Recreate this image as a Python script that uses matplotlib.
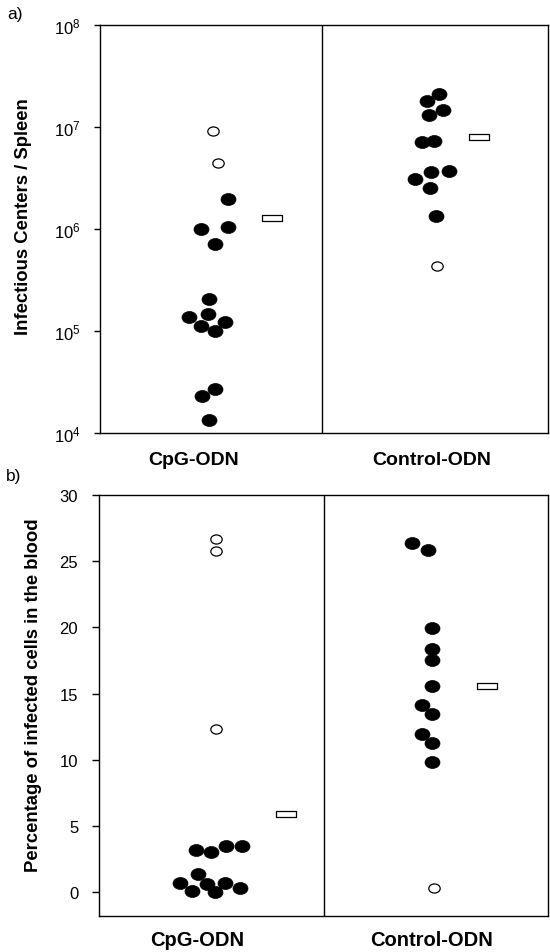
import matplotlib
matplotlib.use("Agg")
import matplotlib.pyplot as plt
from matplotlib.path import Path
from matplotlib.transforms import Affine2D

plt.rcParams['font.family'] = ['Liberation Sans', 'DejaVu Sans']

groups = ['CpG-ODN', 'Control-ODN']

# a) infectious centers per spleen
cpg_spleen_filled = [1.97e6, 1.01e6, 1.04e6, 7.1e5, 2.08e5, 1.37e5, 1.48e5,
                     1.22e5, 1.11e5, 9.9e4, 2.7e4, 2.33e4, 1.34e4]
cpg_spleen_open = [9.2e6, 4.4e6]
cpg_spleen_mean = 1.27e6
ctrl_spleen_filled = [2.1e7, 1.78e7, 1.47e7, 1.31e7, 7.1e6, 7.3e6, 3.66e6,
                      3.73e6, 3.08e6, 2.55e6, 1.34e6]
ctrl_spleen_open = [4.3e5]
ctrl_spleen_mean = 7.9e6
spleen_ticks = [1e4, 1e5, 1e6, 1e7, 1e8]
spleen_ticklabels = [r'$\mathregular{10^{4}}$', r'$\mathregular{10^{5}}$',
                     r'$\mathregular{10^{6}}$', r'$\mathregular{10^{7}}$',
                     r'$\mathregular{10^{8}}$']

# b) percentage of infected cells in the blood
cpg_blood_filled = [3.17, 3.07, 3.47, 3.47, 1.36, 0.70, 0.60, 0.70, 0.1, 0.0, 0.32]
cpg_blood_open = [26.7, 25.76, 12.31]
cpg_blood_mean = 5.89
ctrl_blood_filled = [26.4, 25.83, 19.96, 18.4, 17.55, 15.58, 14.17, 13.44,
                     11.98, 11.28, 9.87]
ctrl_blood_open = [0.35]
ctrl_blood_mean = 15.58
blood_ticks = [0, 5, 10, 15, 20, 25, 30]

# horizontal scatter of the dots (layout only, in category units)
cpg_spleen_dx = [0.08, -0.04, 0.08, 0.02, -0.005, -0.097, -0.01, 0.063, -0.04,
                 0.02, 0.021, -0.037, -0.005]
cpg_spleen_open_dx = [0.01, 0.035]
ctrl_spleen_dx = [0.019, -0.035, 0.038, -0.025, -0.057, 0.0, -0.014, 0.066,
                  -0.086, -0.019, 0.008]
ctrl_spleen_open_dx = [0.01]
cpg_blood_dx = [-0.071, -0.006, 0.064, 0.134, -0.064, -0.143, -0.021, 0.058,
                -0.09, 0.013, 0.125]
cpg_blood_open_dx = [0.018, 0.018, 0.02]
ctrl_blood_dx = [-0.109, -0.039, -0.02, -0.02, -0.02, -0.02, -0.066, -0.02,
                 -0.066, -0.02, -0.02]
ctrl_blood_open_dx = [-0.01]

ellipse = Affine2D().scale(1.0, 0.8).transform_path(Path.unit_circle())
bar = Path([(-1, -0.28), (1, -0.28), (1, 0.28), (-1, 0.28), (-1, -0.28)],
           [Path.MOVETO, Path.LINETO, Path.LINETO, Path.LINETO, Path.CLOSEPOLY])


def draw_group(ax, x0, filled, filled_dx, opened, opened_dx, mean, mean_dx):
    ax.plot([x0 + d for d in filled_dx], filled, linestyle='none',
            marker=ellipse, ms=10.8, mfc='black', mec='black', mew=0.5)
    ax.plot([x0 + d for d in opened_dx], opened, linestyle='none',
            marker=ellipse, ms=8.2, mfc='white', mec='black', mew=0.9)
    ax.plot([x0 + mean_dx], [mean], linestyle='none',
            marker=bar, ms=14.5, mfc='white', mec='black', mew=0.9)


def style_axes(ax):
    for s in ax.spines.values():
        s.set_linewidth(1.0)
    ax.axvline(0.5, color='black', lw=1.0)
    ax.set_xticks([])
    ax.minorticks_off()


fig = plt.figure(figsize=(5.5, 9.53), dpi=100)

# panel a
ax1 = fig.add_axes([100 / 550, 1 - 434 / 953, 448 / 550, 408 / 953])
ax1.set_yscale('log')
ax1.set_ylim(1e4, 1e8)
ax1.set_xlim(-0.493, 1.507)
draw_group(ax1, 0, cpg_spleen_filled, cpg_spleen_dx, cpg_spleen_open,
           cpg_spleen_open_dx, cpg_spleen_mean, 0.273)
draw_group(ax1, 1, ctrl_spleen_filled, ctrl_spleen_dx, ctrl_spleen_open,
           ctrl_spleen_open_dx, ctrl_spleen_mean, 0.2)
style_axes(ax1)
ax1.set_yticks(spleen_ticks)
ax1.set_yticklabels(spleen_ticklabels)
ax1.yaxis.set_minor_locator(matplotlib.ticker.NullLocator())
ax1.tick_params(axis='y', direction='out', length=4, width=1, pad=10, labelsize=12)
ax1.text(-0.076, -0.064, groups[0], transform=ax1.get_xaxis_transform(),
         ha='center', va='center', fontsize=14, fontweight='bold')
ax1.text(0.99, -0.064, groups[1], transform=ax1.get_xaxis_transform(),
         ha='center', va='center', fontsize=14, fontweight='bold')

# panel b
ax2 = fig.add_axes([99 / 550, 1 - 917 / 953, 449 / 550, 421 / 953])
ax2.set_ylim(-1.8, 30)
ax2.set_xlim(-0.503, 1.497)
draw_group(ax2, 0, cpg_blood_filled, cpg_blood_dx, cpg_blood_open,
           cpg_blood_open_dx, cpg_blood_mean, 0.33)
draw_group(ax2, 1, ctrl_blood_filled, ctrl_blood_dx, ctrl_blood_open,
           ctrl_blood_open_dx, ctrl_blood_mean, 0.226)
style_axes(ax2)
ax2.set_yticks(blood_ticks)
ax2.tick_params(axis='y', direction='out', length=5, width=1, pad=10, labelsize=12)
ax2.text(-0.065, -0.055, groups[0], transform=ax2.get_xaxis_transform(),
         ha='center', va='center', fontsize=14.5, fontweight='bold')
ax2.text(0.98, -0.055, groups[1], transform=ax2.get_xaxis_transform(),
         ha='center', va='center', fontsize=14.5, fontweight='bold')

# labels
fig.text(24 / 550, 1 - 217 / 953, 'Infectious Centers / Spleen', rotation=90,
         ha='center', va='center', fontsize=13.3, fontweight='bold')
fig.text(34 / 550, 1 - 695 / 953, 'Percentage of infected cells in the blood',
         rotation=90, ha='center', va='center', fontsize=13.3, fontweight='bold')
fig.text(15 / 550, 1 - 15 / 953, 'a)', ha='center', va='center', fontsize=12.5)
fig.text(14 / 550, 1 - 477 / 953, 'b)', ha='center', va='center', fontsize=12.5)

fig.savefig('out.png', dpi=100)
